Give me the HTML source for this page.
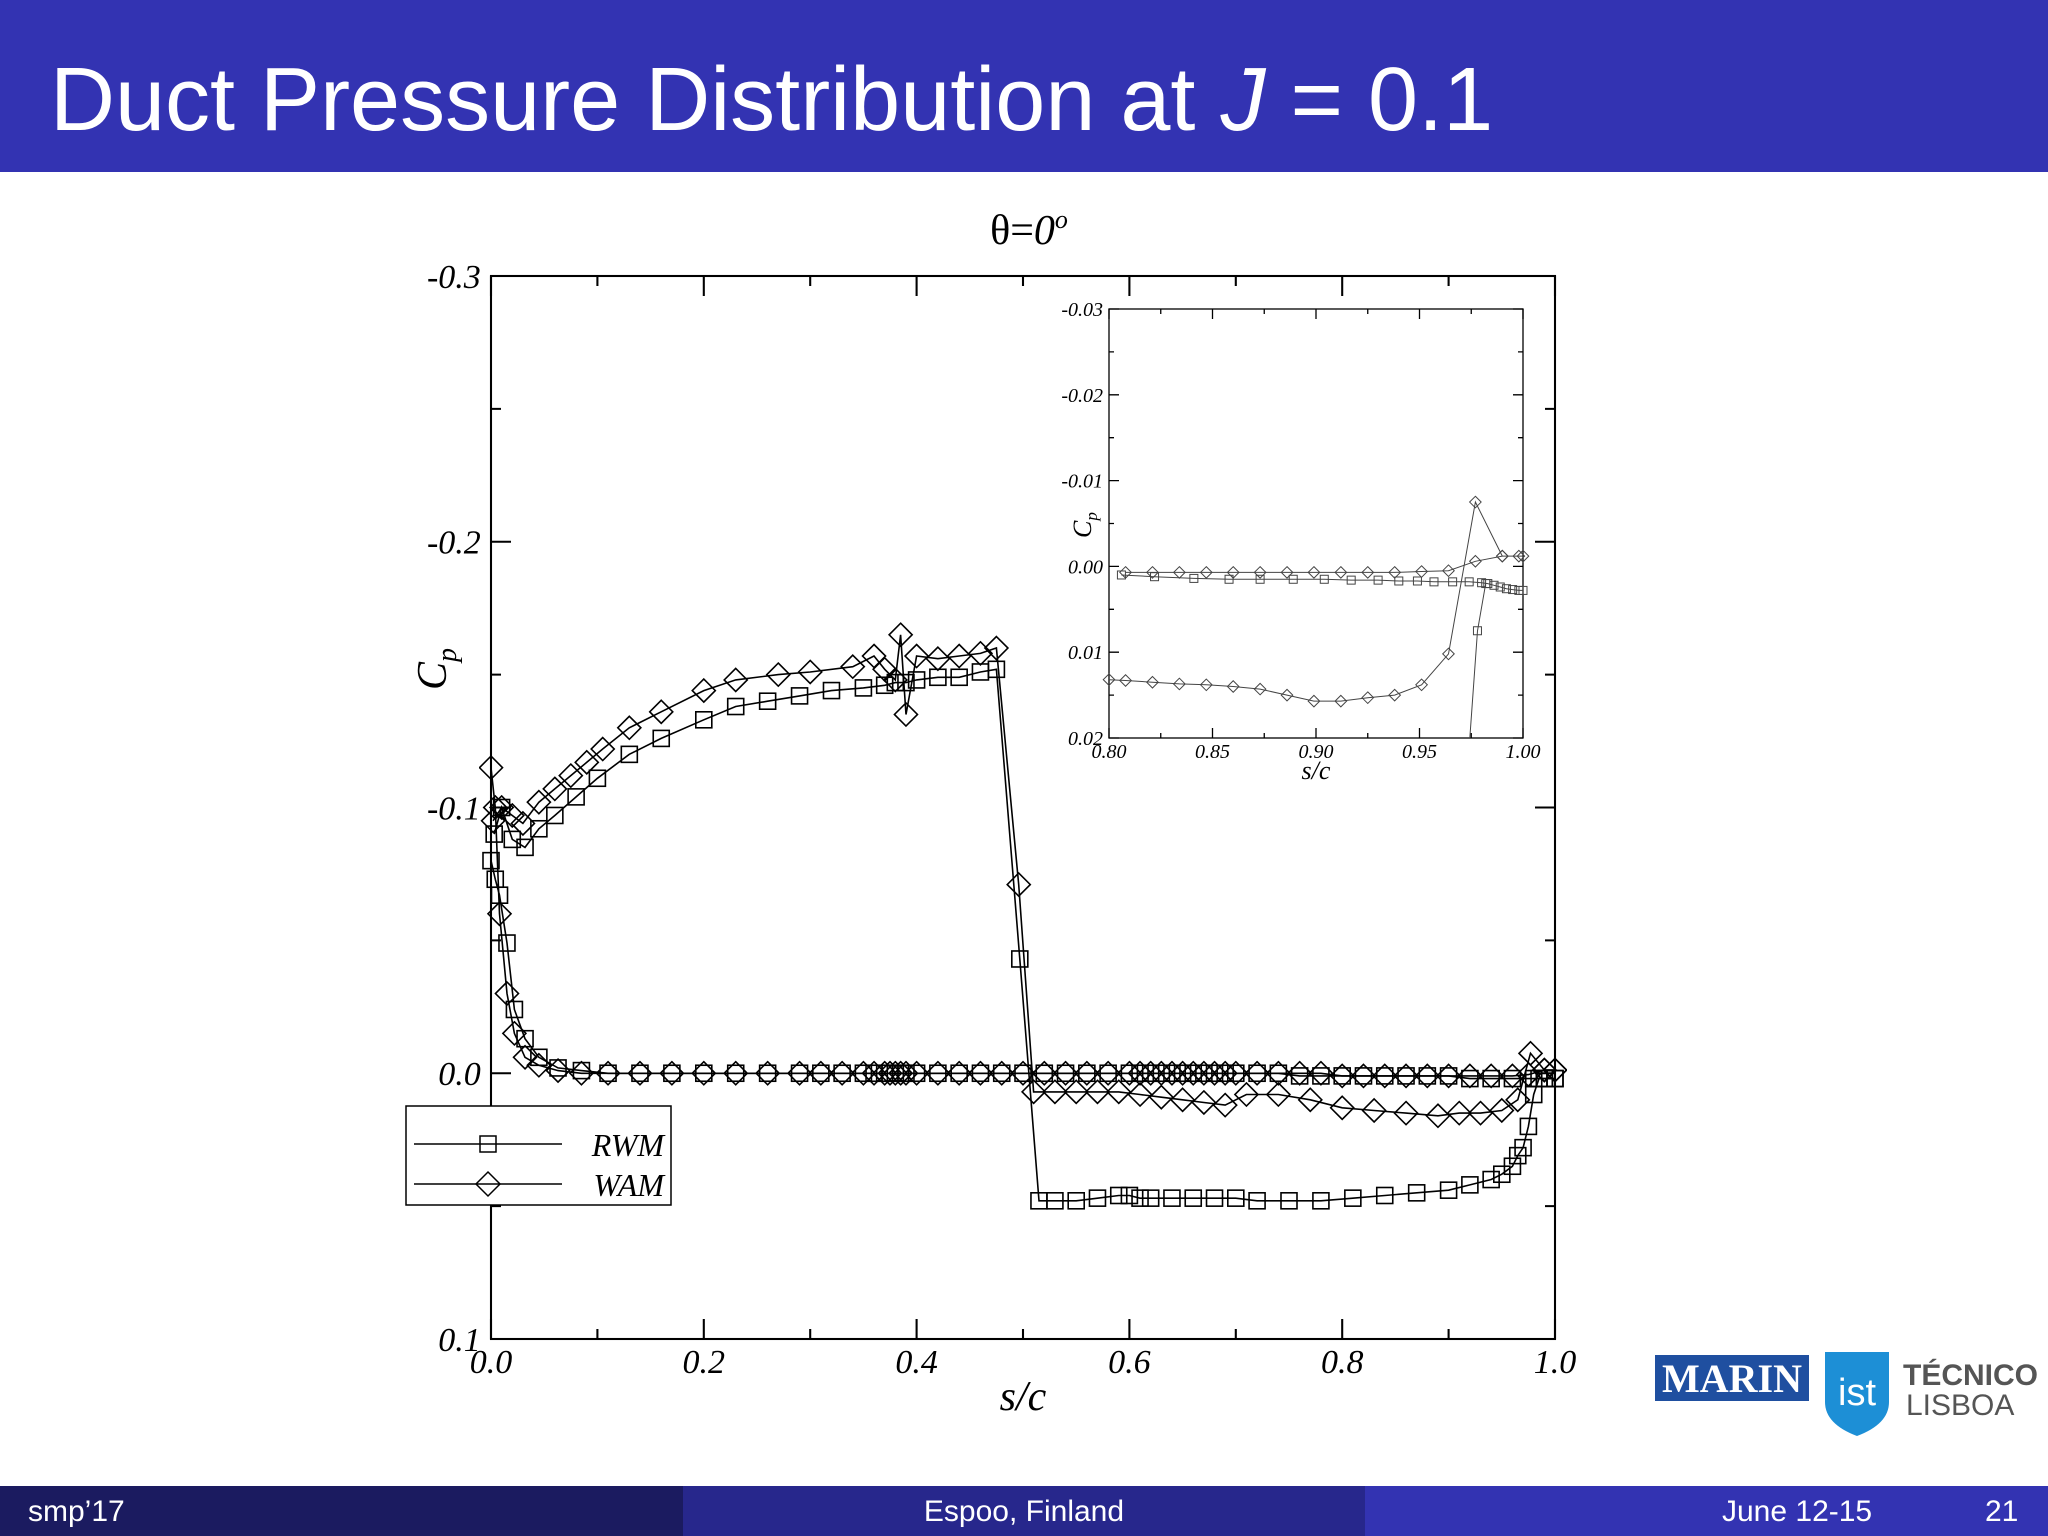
<!DOCTYPE html>
<html><head><meta charset="utf-8"><style>
html,body{margin:0;padding:0;background:#fff;}
svg{display:block;}
.tl{font-family:"Liberation Serif",serif;font-style:italic;fill:#000;}
</style></head><body>
<svg id="s" width="2048" height="1536" viewBox="0 0 2048 1536" xmlns="http://www.w3.org/2000/svg">
<rect x="0" y="0" width="2048" height="172" fill="#3333b2"/>
<text x="50" y="130" font-family="Liberation Sans, sans-serif" font-size="90" fill="#fff">Duct Pressure Distribution at <tspan font-style="italic">J</tspan> = 0.1</text>
<rect x="0" y="1486" width="683" height="50" fill="#1b1b60"/>
<rect x="683" y="1486" width="682" height="50" fill="#27278c"/>
<rect x="1365" y="1486" width="683" height="50" fill="#3333b2"/>
<text x="28" y="1521" font-family="Liberation Sans, sans-serif" font-size="30" fill="#fff">smp’17</text>
<text x="1024" y="1521" text-anchor="middle" font-family="Liberation Sans, sans-serif" font-size="30" fill="#fff">Espoo, Finland</text>
<text x="1722" y="1521" font-family="Liberation Sans, sans-serif" font-size="30" fill="#fff">June 12-15</text>
<text x="1985" y="1521" font-family="Liberation Sans, sans-serif" font-size="30" fill="#fff">21</text>
<g>
<rect x="1655" y="1355" width="154" height="46" fill="#1f4fa0"/>
<text x="1732" y="1392" text-anchor="middle" font-family="Liberation Serif, serif" font-weight="bold" font-size="40" fill="#fff">MARIN</text>
<path d="M1825 1352 h64 v50 q0 22 -32 34 q-32 -12 -32 -34z" fill="#1d8fd6"/>
<text x="1857" y="1405" text-anchor="middle" font-family="Liberation Sans, sans-serif" font-size="38" fill="#fff">ist</text>
<text x="1903" y="1385" font-family="Liberation Sans, sans-serif" font-weight="bold" font-size="30" fill="#555">TÉCNICO</text>
<text x="1906" y="1415" font-family="Liberation Sans, sans-serif" font-size="30" fill="#555">LISBOA</text>
</g>
<text x="1029" y="244" text-anchor="middle" font-family="Liberation Serif, serif" font-size="42">θ=<tspan font-style="italic">0</tspan><tspan font-style="italic" font-size="26" dy="-16">o</tspan></text>
<g id="main"></g>
<g id="inset"></g>
</svg>
<script>
// Main chart data
const rwmZeroS=[0.0,0.004,0.008,0.015,0.022,0.032,0.045,0.063,0.085,0.11,0.14,0.17,0.2,0.23,0.26,0.29,0.31,0.33,0.35,0.36,0.37,0.375,0.38,0.385,0.39,0.40,0.42,0.44,0.46,0.48,0.50,0.52,0.54,0.56,0.58,0.60,0.61,0.62,0.63,0.64,0.65,0.66,0.67,0.68,0.69,0.70,0.72,0.74,0.76,0.78,0.80,0.82,0.84,0.86,0.88,0.90,0.92,0.94,0.96,0.98,0.99,1.0];
const rwmZeroCp=[-0.08,-0.073,-0.067,-0.049,-0.024,-0.013,-0.006,-0.002,-0.001,0,0,0,0,0,0,0,0,0,0,0,0,0,0,0,0,0,0,0,0,0,0,0,0,0,0,0,0,0,0,0,0,0,0,0,0,0,0,0,0.001,0.001,0.001,0.001,0.001,0.001,0.001,0.001,0.002,0.002,0.002,0.002,0.002,0.002];
const rwmLoopS=[0.003,0.01,0.02,0.032,0.045,0.06,0.08,0.1,0.13,0.16,0.2,0.23,0.26,0.29,0.32,0.35,0.37,0.38,0.39,0.40,0.42,0.44,0.46,0.475,0.497,0.515,0.53,0.55,0.57,0.59,0.60,0.61,0.62,0.64,0.66,0.68,0.70,0.72,0.75,0.78,0.81,0.84,0.87,0.90,0.92,0.94,0.95,0.96,0.965,0.97,0.975,0.98,0.985,0.99,1.0];
const rwmLoopCp=[-0.09,-0.1,-0.088,-0.085,-0.092,-0.097,-0.104,-0.111,-0.12,-0.126,-0.133,-0.138,-0.14,-0.142,-0.144,-0.145,-0.146,-0.147,-0.147,-0.148,-0.149,-0.149,-0.151,-0.152,-0.043,0.048,0.048,0.048,0.047,0.046,0.046,0.047,0.047,0.047,0.047,0.047,0.047,0.048,0.048,0.048,0.047,0.046,0.045,0.044,0.042,0.04,0.038,0.035,0.031,0.028,0.02,0.008,0.002,0.002,0.002];
const wamZeroS=[0.0,0.004,0.008,0.015,0.022,0.032,0.045,0.063,0.085,0.11,0.14,0.17,0.2,0.23,0.26,0.29,0.31,0.33,0.35,0.36,0.37,0.375,0.38,0.385,0.39,0.40,0.42,0.44,0.46,0.48,0.50,0.52,0.54,0.56,0.58,0.60,0.61,0.62,0.63,0.64,0.65,0.66,0.67,0.68,0.69,0.70,0.72,0.74,0.76,0.78,0.80,0.82,0.84,0.86,0.88,0.90,0.92,0.94,0.96,0.975,0.99,1.0];
const wamZeroCp=[-0.115,-0.1,-0.06,-0.03,-0.015,-0.006,-0.003,-0.001,0,0,0,0,0,0,0,0,0,0,0,0,0,0,0,0,0,0,0,0,0,0,0,0,0,0,0,0,0,0,0,0,0,0,0,0,0,0,0,0,0,0,0.001,0.001,0.001,0.001,0.001,0.001,0.001,0.001,0.001,0.0005,-0.0012,-0.0012];
const wamLoopS=[0.002,0.01,0.02,0.03,0.045,0.06,0.075,0.09,0.105,0.13,0.16,0.2,0.23,0.27,0.3,0.34,0.36,0.37,0.38,0.385,0.39,0.40,0.42,0.44,0.46,0.475,0.496,0.51,0.53,0.55,0.57,0.59,0.61,0.63,0.65,0.67,0.69,0.71,0.74,0.77,0.80,0.83,0.86,0.89,0.91,0.93,0.95,0.965,0.977,0.99,1.0];
const wamLoopCp=[-0.095,-0.1,-0.097,-0.094,-0.102,-0.107,-0.112,-0.117,-0.122,-0.13,-0.136,-0.144,-0.148,-0.15,-0.151,-0.153,-0.157,-0.152,-0.148,-0.165,-0.135,-0.157,-0.156,-0.157,-0.158,-0.16,-0.071,0.007,0.007,0.007,0.007,0.007,0.008,0.009,0.01,0.011,0.012,0.008,0.008,0.01,0.013,0.014,0.015,0.016,0.015,0.015,0.014,0.01,-0.0075,-0.0012,-0.0012];
const xTicks=["0.0","0.2","0.4","0.6","0.8","1.0"];
const yTicks=["-0.3","-0.2","-0.1","0.0","0.1"];
// Inset data
const inRwmS=[0.806,0.822,0.841,0.858,0.873,0.889,0.904,0.917,0.93,0.94,0.949,0.957,0.966,0.974,0.98,0.983,0.986,0.989,0.992,0.995,0.998,1.0];
const inRwmCp=[0.001,0.0012,0.0014,0.0015,0.0015,0.0015,0.0015,0.0016,0.0016,0.0017,0.0017,0.0018,0.0018,0.0018,0.0019,0.002,0.0022,0.0024,0.0026,0.0027,0.0028,0.0028];
const inRwmLowS=[0.974,0.978,0.982];
const inRwmLowCp=[0.021,0.0075,0.002];
const inWamS=[0.808,0.821,0.834,0.847,0.86,0.873,0.886,0.899,0.912,0.925,0.938,0.951,0.964,0.977,0.99,0.998,1.0];
const inWamCp=[0.0007,0.0007,0.0007,0.0007,0.0007,0.0007,0.0007,0.0007,0.0007,0.0007,0.0007,0.0006,0.0005,-0.0006,-0.0012,-0.0012,-0.0012];
const inWamLowS=[0.8,0.808,0.821,0.834,0.847,0.86,0.873,0.886,0.899,0.912,0.925,0.938,0.951,0.964,0.977,0.99];
const inWamLowCp=[0.0132,0.0133,0.0135,0.0137,0.0138,0.014,0.0143,0.015,0.0157,0.0157,0.0153,0.015,0.0138,0.0102,-0.0075,-0.0012];
const inXTicks=["0.80","0.85","0.90","0.95","1.00"];
const inYTicks=["-0.03","-0.02","-0.01","0.00","0.01","0.02"];

const NS="http://www.w3.org/2000/svg";
function mk(p,tag,at){const e=document.createElementNS(NS,tag);for(const k in at)e.setAttribute(k,at[k]);p.appendChild(e);return e;}

function chart(g,L,R,T,B,x0,x1,y0,y1,xt,yt,xminor,yminor,tickLen,fs,lw,ms,series){
  const X=v=>L+(v-x0)/(x1-x0)*(R-L), Y=v=>T+(v-y0)/(y1-y0)*(B-T);
  const fr=mk(g,'rect',{x:L,y:T,width:R-L,height:B-T,fill:'#fff',stroke:'#000','stroke-width':lw*1.3});
  
  
  xt.forEach((t,i)=>{const v=x0+(x1-x0)*i/(xt.length-1);const x=X(v);
    const l=mk(g,'path',{d:`M${x} ${B}v${-tickLen}M${x} ${T}v${tickLen}`,stroke:'#000','stroke-width':lw*1.3});
    
    
    const tx=mk(g,'text',{x:x,y:B+fs*1.0,'text-anchor':'middle','font-size':fs,class:'tl'});tx.textContent=t;
    
    
    if(i<xt.length-1)for(let k=1;k<xminor;k++){const xm=X(v+(x1-x0)/(xt.length-1)*k/xminor);
      const m=mk(g,'path',{d:`M${xm} ${B}v${-tickLen/2}M${xm} ${T}v${tickLen/2}`,stroke:'#000','stroke-width':lw*1.3});
      
      }
  });
  yt.forEach((t,i)=>{const v=y0+(y1-y0)*i/(yt.length-1);const y=Y(v);
    const l=mk(g,'path',{d:`M${L} ${y}h${tickLen}M${R} ${y}h${-tickLen}`,stroke:'#000','stroke-width':lw*1.3});
    
    
    const tx=mk(g,'text',{x:L-fs*0.3,y:y+fs*0.35,'text-anchor':'end','font-size':fs,class:'tl'});tx.textContent=t;
    
    
    if(i<yt.length-1)for(let k=1;k<yminor;k++){const ym=Y(v+(y1-y0)/(yt.length-1)*k/yminor);
      const m=mk(g,'path',{d:`M${L} ${ym}h${tickLen/2}M${R} ${ym}h${-tickLen/2}`,stroke:'#000','stroke-width':lw*1.3});
      
      }
  });
  const clipId='c'+Math.round(L);
  const cp=mk(g,'clipPath',{id:clipId});mk(cp,'rect',{x:L-12,y:T,width:R-L+24,height:B-T});
  const sg=mk(g,'g',{'clip-path':`url(#${clipId})`});
  series.forEach(s=>{
    const d=s.x.map((v,i)=>(i?'L':'M')+X(v).toFixed(1)+' '+Y(s.y[i]).toFixed(1)).join('');
    const p=mk(sg,'path',{d:d,fill:'none',stroke:s.col,'stroke-width':lw});
    
    
    s.x.forEach((v,i)=>{const cx=X(v),cy=Y(s.y[i]);let m;
      if(s.mk==='sq')m=mk(sg,'rect',{x:cx-ms/2,y:cy-ms/2,width:ms,height:ms,fill:'none',stroke:s.col,'stroke-width':lw});
      else{const r=ms*0.72;m=mk(sg,'path',{d:`M${cx} ${cy-r}L${cx+r} ${cy}L${cx} ${cy+r}L${cx-r} ${cy}Z`,fill:'none',stroke:s.col,'stroke-width':lw});}
      
      
    });
  });
}
const main=document.getElementById('main');
chart(main,491,1555,276,1339,0,1,-0.3,0.1,xTicks,yTicks,2,2,20,34,1.6,16,[
 {x:rwmZeroS,y:rwmZeroCp,mk:'sq',col:'#000',name:'rwm-outer'},
 {x:rwmLoopS,y:rwmLoopCp,mk:'sq',col:'#000',name:'rwm-inner'},
 {x:wamZeroS,y:wamZeroCp,mk:'dm',col:'#000',name:'wam-outer'},
 {x:wamLoopS,y:wamLoopCp,mk:'dm',col:'#000',name:'wam-inner'}]);
const inset=document.getElementById('inset');
chart(inset,1109,1523,309,738,0.8,1.0,-0.03,0.02,inXTicks,inYTicks,2,2,10,20,1,8,[
 {x:inRwmS,y:inRwmCp,mk:'sq',col:'#444',name:'inset-rwm'},
 {x:inRwmLowS,y:inRwmLowCp,mk:'sq',col:'#444',name:'inset-rwm-lower'},
 {x:inWamS,y:inWamCp,mk:'dm',col:'#444',name:'inset-wam'},
 {x:inWamLowS,y:inWamLowCp,mk:'dm',col:'#444',name:'inset-wam-lower'}]);
const svg=document.getElementById('s');
function txt(x,y,s,fs,extra,name){const t=mk(svg,'text',Object.assign({x:x,y:y,'font-size':fs,class:'tl'},extra||{}));t.innerHTML=s;
 
 return t;}
txt(1023,1410,'s/c',42,{'text-anchor':'middle'},'x-axis-title');
txt(0,0,'C<tspan font-size="28" dy="10">p</tspan>',42,{transform:'translate(446,690) rotate(-90)'},'y-axis-title');
txt(1316,779,'s/c',26,{'text-anchor':'middle'},'inset-x-axis-title');
txt(0,0,'C<tspan font-size="17" dy="6">p</tspan>',26,{transform:'translate(1091,538) rotate(-90)'},'inset-y-axis-title');
// legend
const lg=mk(svg,'g',{});


mk(lg,'rect',{x:406,y:1106,width:265,height:99,fill:'#fff',stroke:'#000','stroke-width':1.5});
const e1=mk(lg,'g',{});


mk(e1,'path',{d:'M414 1144H562',stroke:'#000','stroke-width':1.5});
mk(e1,'rect',{x:480,y:1136,width:16,height:16,fill:'none',stroke:'#000','stroke-width':1.5});
const t1=mk(e1,'text',{x:664,y:1156,'text-anchor':'end','font-size':32,class:'tl'});t1.textContent='RWM';
const e2=mk(lg,'g',{});


mk(e2,'path',{d:'M414 1184H562',stroke:'#000','stroke-width':1.5});
mk(e2,'path',{d:'M488 1172L500 1184L488 1196L476 1184Z',fill:'none',stroke:'#000','stroke-width':1.5});
const t2=mk(e2,'text',{x:664,y:1196,'text-anchor':'end','font-size':32,class:'tl'});t2.textContent='WAM';
</script>
</body></html>
